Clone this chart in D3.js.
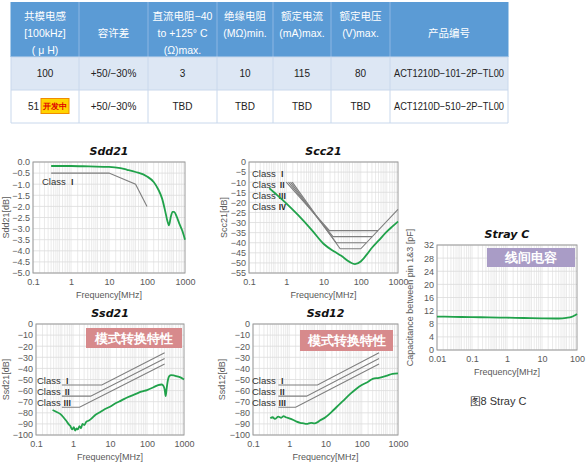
<!DOCTYPE html>
<html lang="zh">
<head>
<meta charset="utf-8">
<title>ACT1210D characteristics</title>
<script src="https://cdn.jsdelivr.net/npm/d3@7"></script>
<style>
  body { margin: 0; background: #fff; }
  svg text { font-family: "Liberation Sans", Arial, sans-serif; }
  .cjk { font-family: "Liberation Sans", "Noto Sans CJK SC", sans-serif; }
  .tick text { fill: #595959; font-size: 9px; }
  .title { font-family: "DejaVu Sans", Verdana, sans-serif !important; font-weight: bold; font-style: italic; font-size: 11px; fill: #111; }
  .axtitle { fill: #595959; font-size: 9px; }
  .cls { fill: #333; font-size: 9.5px; }
  .cls tspan { font-family: "Noto Sans CJK SC", sans-serif; font-size: 7.5px; font-weight: bold; fill: #222; }
</style>
</head>
<body>
<script>
// ---- table ----
var tableHeader = [
  ["共模电感", "[100kHz]", "( μ H)"],
  ["容许差"],
  ["直流电阻−40", "to  +125° C", "(Ω)max."],
  ["绝缘电阻", "(MΩ)min."],
  ["额定电流", "(mA)max."],
  ["额定电压", "(V)max."],
  ["产品编号"]
];
var tableRows = [
  ["100", "+50/−30%", "3", "10", "115", "80", "ACT1210D−101−2P−TL00"],
  ["51", "+50/−30%", "TBD", "TBD", "TBD", "TBD", "ACT1210D−510−2P−TL00"]
];
var devBadge = "开发中";

// ---- Sdd21 ----
var sddFreq = [0.3, 1, 3, 10, 20, 30, 50, 100, 150, 200, 250, 300, 350, 380, 420, 470, 520, 600, 700, 850, 1000];
var sddVal  = [-0.18, -0.18, -0.2, -0.22, -0.28, -0.35, -0.45, -0.65, -0.9, -1.25, -1.65, -2.2, -2.7, -2.85, -2.5, -2.25, -2.25, -2.45, -2.75, -3.1, -3.5];
var sddClassFreq = [[0.3, 10, 50, 100]];
var sddClassVal  = [[-0.5, -0.5, -1.0, -2.0]];
var sddClassNames = ["Ⅰ"];

// ---- Scc21 ----
var sccFreq = [0.35, 0.5, 1, 2, 5, 10, 20, 30, 50, 70, 100, 150, 200, 300, 500, 700, 1000];
var sccVal  = [-13, -15.5, -20.5, -26, -34, -40.5, -44.5, -46.5, -49.5, -50.6, -49.3, -45.5, -42.5, -39, -34.5, -32, -29.5];
var sccClassFreq = [[1, 14.5, 290], [1.15, 18, 203], [1.3, 22, 142], [1.45, 28, 100, 1000]];
var sccClassVal  = [[-10, -34, -34], [-10, -37, -37], [-10, -40, -40], [-10, -43, -43, -23.5]];
var sccClassNames = ["Ⅰ", "Ⅱ", "Ⅲ", "Ⅳ"];

// ---- Ssd21 ----
var ssd21Freq = [0.28, 0.35, 0.45, 0.55, 0.65, 0.75, 0.85, 0.95, 1.05, 1.15, 1.25, 1.35, 1.5, 1.65, 1.8, 2, 2.3, 2.7, 3.2, 4, 5, 7, 10, 15, 20, 30, 50, 70, 100, 150, 200, 250, 280, 300, 320, 340, 370, 400, 450, 550, 700, 850, 1000];
var ssd21Val  = [-77.5, -79, -81, -84, -87, -90, -92, -95, -93, -96, -94, -95, -92, -94, -90, -91, -88, -87, -85, -82, -80, -77, -74.5, -71, -69, -66, -63, -61, -59.5, -57, -55, -54.5, -56, -59, -65, -58, -50, -47, -46, -46.5, -47.5, -48.5, -50];

// ---- Ssd12 ----
var ssd12Freq = [0.3, 0.35, 0.4, 0.5, 0.6, 0.7, 0.8, 1, 1.3, 1.6, 2, 2.5, 3, 4, 5, 6, 7, 10, 15, 20, 30, 50, 70, 100, 150, 200, 300, 500, 700, 1000];
var ssd12Val  = [-85, -84, -85.5, -83.5, -84.5, -83, -84, -85, -86.5, -88, -89, -89.5, -90, -89, -89.5, -88.5, -87, -84, -79, -75, -69.5, -62.5, -58.5, -55, -52, -49.5, -48.5, -46.5, -45, -44.5];

// class limits shared by Ssd21 / Ssd12
var ssdClassFreq = [[0.5, 6, 300], [0.5, 3, 300], [0.5, 1.5, 300]];
var ssdClassVal  = [[-55, -55, -26], [-65, -65, -31], [-75, -75, -36]];
var ssdClassNames = ["Ⅰ", "Ⅱ", "Ⅲ"];

// ---- Stray C ----
var strayFreq = [0.01, 0.03, 0.1, 0.3, 1, 3, 10, 30, 50, 70, 85, 100];
var strayVal  = [10.2, 10.1, 10.0, 9.95, 9.85, 9.75, 9.65, 9.6, 9.8, 10.1, 10.5, 11];

var W = 588, H = 469;
var svg = d3.select("body").append("svg").attr("width", W).attr("height", H);

// ================= table =================
var colX = [11, 79, 148, 217, 273, 331, 390, 508];
var rowY = [2, 57, 90, 123];

var tbl = svg.append("g");
tbl.append("rect").attr("x", colX[0]).attr("y", rowY[0]).attr("width", colX[7] - colX[0]).attr("height", rowY[1] - rowY[0]).attr("fill", "#5b9bd5");
tbl.append("rect").attr("x", colX[0]).attr("y", rowY[1]).attr("width", colX[7] - colX[0]).attr("height", rowY[2] - rowY[1]).attr("fill", "#dde7f4");
tbl.append("rect").attr("x", colX[0]).attr("y", rowY[2]).attr("width", colX[7] - colX[0]).attr("height", rowY[3] - rowY[2]).attr("fill", "#fff");

// borders
colX.forEach(function(x, i) {
  tbl.append("line").attr("x1", x).attr("x2", x).attr("y1", rowY[0]).attr("y2", rowY[1])
    .attr("stroke", i == 0 || i == 7 ? "#5b9bd5" : "#8db6e3").attr("stroke-width", 1);
  tbl.append("line").attr("x1", x).attr("x2", x).attr("y1", rowY[1]).attr("y2", rowY[3])
    .attr("stroke", "#c9d8ec").attr("stroke-width", 1);
});
rowY.slice(1).forEach(function(y) {
  tbl.append("line").attr("x1", colX[0]).attr("x2", colX[7]).attr("y1", y).attr("y2", y)
    .attr("stroke", "#c9d8ec").attr("stroke-width", 1);
});

tableHeader.forEach(function(lines, c) {
  var cx = (colX[c] + colX[c + 1]) / 2;
  lines.forEach(function(t, k) {
    var y = lines.length == 1 ? 33 : 16 + k * 17;
    tbl.append("text").attr("class", "cjk").attr("x", cx).attr("y", y).attr("dy", "0.35em")
      .attr("text-anchor", "middle").attr("fill", "#fff").attr("font-size", 10.5).text(t);
  });
});

tableRows.forEach(function(row, r) {
  var cy = (rowY[r + 1] + rowY[r + 2]) / 2;
  row.forEach(function(t, c) {
    var cx = (colX[c] + colX[c + 1]) / 2;
    var txt = tbl.append("text").attr("x", cx).attr("y", cy).attr("dy", "0.35em")
      .attr("text-anchor", "middle").attr("fill", "#222").attr("font-size", 10).text(t);
    if (c == 6) txt.attr("textLength", 110).attr("lengthAdjust", "spacingAndGlyphs");
    if (r == 1 && c == 0) {
      txt.attr("x", 39).attr("text-anchor", "end");
      tbl.append("rect").attr("x", 41).attr("y", cy - 8).attr("width", 28).attr("height", 15)
        .attr("fill", "#ffd400").attr("stroke", "#f08c00").attr("stroke-width", 1);
      tbl.append("text").attr("x", 55).attr("y", cy - 0.5).attr("dy", "0.35em")
        .attr("text-anchor", "middle").attr("fill", "#e00000").attr("font-size", 8)
        .attr("font-family", "Noto Sans CJK SC").attr("font-weight", "bold").text(devBadge);
    }
  });
});

// ================= charts =================
function drawChart(o) {
  var g = svg.append("g");
  var x = d3.scaleLog().domain(o.xDomain).range([o.left, o.right]);
  var y = d3.scaleLinear().domain(o.yDomain).range([o.bottom, o.top]);

  // grid
  var minor = [];
  var lo = Math.round(Math.log10(o.xDomain[0])), hi = Math.round(Math.log10(o.xDomain[1]));
  for (var e = lo; e < hi; e++) {
    for (var m = 1; m <= 9; m++) minor.push(m * Math.pow(10, e));
    [1.5, 2.5, 3.5, 4.5].forEach(function(m) { minor.push(m * Math.pow(10, e)); });
  }
  g.selectAll(".vg").data(minor).enter().append("line")
    .attr("x1", function(d) { return x(d); }).attr("x2", function(d) { return x(d); })
    .attr("y1", o.top).attr("y2", o.bottom)
    .attr("stroke", "#e4e4e4").attr("stroke-width", 0.8);
  g.selectAll(".hg").data(o.yTicks).enter().append("line")
    .attr("x1", o.left).attr("x2", o.right)
    .attr("y1", function(d) { return y(d); }).attr("y2", function(d) { return y(d); })
    .attr("stroke", "#dcdcdc").attr("stroke-width", 0.8);

  // coloured note box
  if (o.note) {
    g.append("rect").attr("x", o.note.x).attr("y", o.note.y).attr("width", o.note.w).attr("height", o.note.h)
      .attr("fill", o.note.color);
    g.append("text").attr("x", o.note.x + o.note.w / 2).attr("y", o.note.y + o.note.h / 2)
      .attr("dy", "0.36em").attr("text-anchor", "middle").attr("fill", "#fff")
      .attr("font-family", "Noto Sans CJK SC")
      .attr("font-size", 13).attr("font-weight", "bold").text(o.note.text);
  }

  // frame
  g.append("rect").attr("x", o.left).attr("y", o.top).attr("width", o.right - o.left).attr("height", o.bottom - o.top)
    .attr("fill", "none").attr("stroke", "#9a9a9a").attr("stroke-width", 1);

  // axes
  var xa = g.append("g").attr("transform", "translate(0," + o.bottom + ")")
    .call(d3.axisBottom(x).tickValues(o.xTicks).tickSize(0).tickPadding(6).tickFormat(d3.format("~g")));
  xa.select(".domain").remove();
  var ya = g.append("g").attr("transform", "translate(" + o.left + ",0)")
    .call(d3.axisLeft(y).tickValues(o.yTicks).tickSize(0).tickPadding(3).tickFormat(o.yFormat));
  ya.select(".domain").remove();

  g.append("text").attr("class", "title").attr("x", (o.left + o.right) / 2).attr("y", o.top - 7)
    .attr("text-anchor", "middle").text(o.title);
  g.append("text").attr("class", "axtitle").attr("x", (o.left + o.right) / 2).attr("y", o.bottom + 25)
    .attr("text-anchor", "middle").text("Frequency[MHz]");
  g.append("text").attr("class", "axtitle").attr("transform", "translate(" + o.yLabelX + "," + (o.top + o.bottom) / 2 + ") rotate(-90)")
    .attr("text-anchor", "middle").attr("dy", "0.35em").attr("font-size", o.yLabelSize || 9).text(o.yLabel);

  var line = d3.line().x(function(d) { return x(d[0]); }).y(function(d) { return y(d[1]); });

  // class limit lines
  (o.classFreq || []).forEach(function(fs, i) {
    var pts = d3.zip(fs, o.classVal[i]);
    g.append("path").attr("d", line(pts)).attr("fill", "none").attr("stroke", "#7f7f7f").attr("stroke-width", 1.1);
  });
  (o.classNames || []).forEach(function(t, i) {
    var lab = g.append("text").attr("class", "cls").attr("x", o.classLabelX).attr("y", o.classLabelY[i])
      .attr("dy", "0.35em").text("Class  ");
    lab.append("tspan").text(t);
  });

  // measured curve
  g.append("path").attr("d", line.curve(d3.curveMonotoneX)(d3.zip(o.freq, o.val)))
    .attr("fill", "none").attr("stroke", "#21a24b").attr("stroke-width", 1.8);
}

drawChart({
  title: "Sdd21", left: 33, right: 185, top: 162, bottom: 273,
  xDomain: [0.1, 1000], xTicks: [0.1, 1, 10, 100, 1000],
  yDomain: [-5, 0], yTicks: d3.range(0, 11).map(function(i) { return -i * 0.5; }), yFormat: d3.format(".1f"),
  yLabel: "Sdd21[dB]", yLabelX: 6,
  freq: sddFreq, val: sddVal,
  classFreq: sddClassFreq, classVal: sddClassVal, classNames: sddClassNames,
  classLabelX: 42, classLabelY: [182]
});

drawChart({
  title: "Scc21", left: 249, right: 398, top: 162, bottom: 273,
  xDomain: [0.1, 1000], xTicks: [0.1, 1, 10, 100, 1000],
  yDomain: [-55, 0], yTicks: d3.range(0, 12).map(function(i) { return -i * 5; }), yFormat: d3.format("d"),
  yLabel: "Scc21[dB]", yLabelX: 224,
  freq: sccFreq, val: sccVal,
  classFreq: sccClassFreq, classVal: sccClassVal, classNames: sccClassNames,
  classLabelX: 252, classLabelY: [174, 185, 196, 207]
});

drawChart({
  title: "Ssd21", left: 36, right: 184, top: 324, bottom: 435,
  xDomain: [0.1, 1000], xTicks: [0.1, 1, 10, 100, 1000],
  yDomain: [-100, 0], yTicks: d3.range(0, 11).map(function(i) { return -i * 10; }), yFormat: d3.format("d"),
  yLabel: "Ssd21[dB]", yLabelX: 6,
  freq: ssd21Freq, val: ssd21Val,
  classFreq: ssdClassFreq, classVal: ssdClassVal, classNames: ssdClassNames,
  classLabelX: 37, classLabelY: [381, 392, 403],
  note: { x: 86, y: 328, w: 96, h: 20, color: "#d78a8c", text: "模式转换特性" }
});

drawChart({
  title: "Ssd12", left: 253, right: 398, top: 324, bottom: 435,
  xDomain: [0.1, 1000], xTicks: [0.1, 1, 10, 100, 1000],
  yDomain: [-100, 0], yTicks: d3.range(0, 11).map(function(i) { return -i * 10; }), yFormat: d3.format("d"),
  yLabel: "Ssd12[dB]", yLabelX: 222,
  freq: ssd12Freq, val: ssd12Val,
  classFreq: ssdClassFreq, classVal: ssdClassVal, classNames: ssdClassNames,
  classLabelX: 252, classLabelY: [381, 392, 403],
  note: { x: 300, y: 330, w: 93, h: 21, color: "#d78a8c", text: "模式转换特性" }
});

drawChart({
  title: "Stray C", left: 437, right: 577, top: 245, bottom: 350,
  xDomain: [0.01, 100], xTicks: [0.01, 0.1, 1, 10, 100],
  yDomain: [0, 32], yTicks: d3.range(0, 9).map(function(i) { return i * 4; }), yFormat: d3.format("d"),
  yLabel: "Capacitance between pin 1&3 [pF]", yLabelX: 410, yLabelSize: 7.5,
  freq: strayFreq, val: strayVal,
  note: { x: 487, y: 248, w: 88, h: 19, color: "#a99cc6", text: "线间电容" }
});

svg.append("text").attr("x", 498).attr("y", 401).attr("dy", "0.35em")
  .attr("font-family", "Noto Sans CJK SC")
  .attr("text-anchor", "middle").attr("fill", "#333").attr("font-size", 11).text("图8 Stray C");
</script>
</body>
</html>
